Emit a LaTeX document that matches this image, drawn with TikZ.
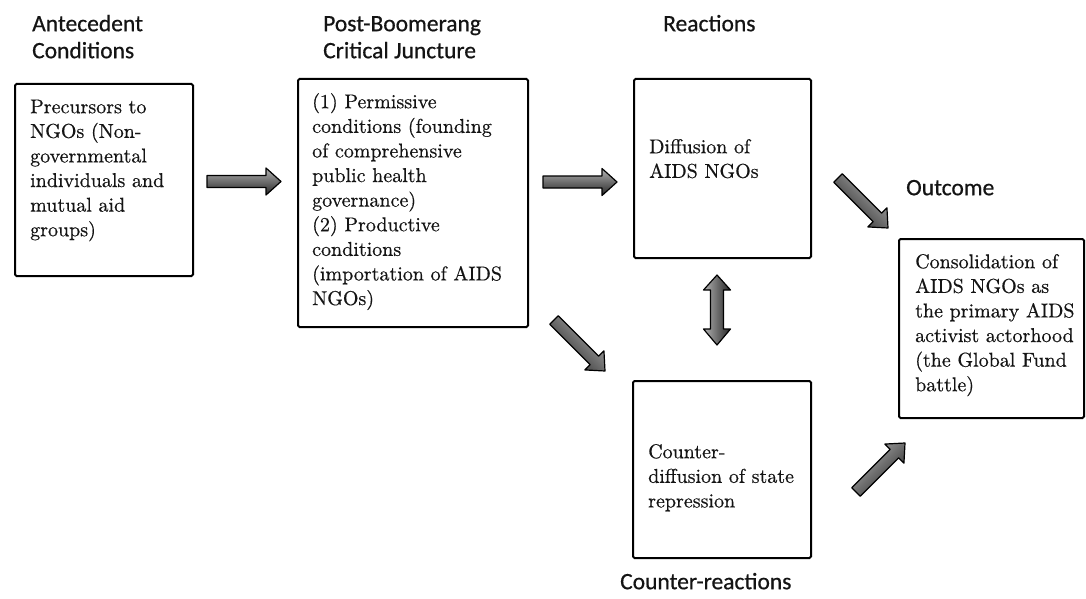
\documentclass[tikz,border=0pt]{standalone}
\usepackage{fontspec}
\newfontfamily\headfont{Carlito}[FakeBold=0.6]
\newfontfamily\bodyserif{lmroman10-regular.otf}[FakeBold=0.5]
\usetikzlibrary{calc}
\newcommand\bodyfont{\bodyserif\fontsize{20}{24.6}\selectfont}
\newcommand\hdfont{\headfont\fontsize{23.5}{27}\selectfont}
\tikzset{
  box/.style={draw=black, line width=2pt, rounded corners=1.5pt, fill=white, inner sep=0pt, anchor=north west},
  bodytext/.style={anchor=north west, inner sep=0pt, align=left, font=\bodyfont, text=black!92},
  headtext/.style={anchor=north west, inner sep=0pt, align=left, font=\hdfont, text=black!92},
  arrowfill/.style={draw=black, line width=1.2pt, line join=round, top color=black!30, middle color=black!48, bottom color=black!85}
}
% single block arrow from tail #2 to tip #3
\newcommand\blkarrow[3][0]{%
  \coordinate (hb) at ($(#3)!15pt!(#2)$);
  \path[arrowfill, shading angle=#1]
    ($(#2)!6pt!90:(#3)$) -- ($(hb)!6pt!-90:(#2)$) -- ($(hb)!13.5pt!-90:(#2)$) -- (#3)
    -- ($(hb)!13.5pt!90:(#2)$) -- ($(hb)!6pt!90:(#2)$) -- ($(#2)!6pt!-90:(#3)$) -- cycle;
}
% double block arrow between tips #2 and #3
\newcommand\dblarrow[3][0]{%
  \coordinate (ha) at ($(#2)!15pt!(#3)$);
  \coordinate (hb) at ($(#3)!16pt!(#2)$);
  \path[arrowfill, shading angle=#1]
    (#2) -- ($(ha)!13.5pt!90:(#3)$) -- ($(ha)!6.5pt!90:(#3)$) -- ($(hb)!6.5pt!-90:(#2)$)
    -- ($(hb)!13.5pt!-90:(#2)$) -- (#3) -- ($(hb)!13.5pt!90:(#2)$) -- ($(hb)!6.5pt!90:(#2)$)
    -- ($(ha)!6.5pt!-90:(#3)$) -- ($(ha)!13.5pt!-90:(#3)$) -- cycle;
}
\begin{document}
\begin{tikzpicture}[x=1pt, y=-1pt]
\useasboundingbox[fill=white] (0,0) rectangle (1086,599);

% headings
\node[headtext] (h1) at (32,12.1) {\strut Antecedent\\Conditions};
\node[headtext] (h2) at (323,12.1) {\strut Post-Boomerang\\Critical Juncture};
\node[headtext] (h3) at (663,12.1) {\strut Reactions};
\node[headtext] (h4) at (906,176.1) {\strut Outcome};
\node[headtext] (h5) at (620,570.1) {\strut Counter-reactions};

% boxes
\node[box, minimum width=178, minimum height=192] (b1) at (14,83) {};
\node[box, minimum width=230, minimum height=248] (b2) at (297,78) {};
\node[box, minimum width=177, minimum height=179] (b3) at (633,78) {};
\node[box, minimum width=178, minimum height=177] (b4) at (632,380) {};
\node[box, minimum width=185, minimum height=179] (b5) at (898,238) {};

% box texts
\node[bodytext] (t1) at (30,95.8) {\strut Precursors to\\NGOs (Non-\\governmental\\individuals and\\mutual aid\\groups)};
\node[bodytext] (t2) at (312,90.8) {\strut (1) Permissive\\conditions (founding\\of comprehensive\\public health\\governance)\\(2) Productive\\conditions\\(importation of AIDS\\NGOs)};
\node[bodytext] (t3) at (649,135.8) {\strut Diffusion of\\AIDS NGOs};
\node[bodytext] (t4) at (648,440.8) {\strut Counter-\\diffusion of state\\repression};
\node[bodytext] (t5) at (915,250.8) {\strut Consolidation of\\AIDS NGOs as\\the primary AIDS\\activist actorhood\\(the Global Fund\\battle)};

% arrow end points
\coordinate (a1s) at (207,181.5);
\coordinate (a1e) at (281,181.5);
\coordinate (a2s) at (543,182);
\coordinate (a2e) at (617,182);
\coordinate (a3s) at (838,178);
\coordinate (a3e) at (888,228);
\coordinate (a4s) at (717,275);
\coordinate (a4e) at (717,345);
\coordinate (a5s) at (554,320);
\coordinate (a5e) at (605,371);
\coordinate (a6s) at (856,492);
\coordinate (a6e) at (905,443);

\blkarrow[0]{a1s}{a1e}
\blkarrow[0]{a2s}{a2e}
\blkarrow[-45]{a3s}{a3e}
\dblarrow[90]{a4s}{a4e}
\blkarrow[-45]{a5s}{a5e}
\blkarrow[45]{a6s}{a6e}
\end{tikzpicture}
\end{document}
